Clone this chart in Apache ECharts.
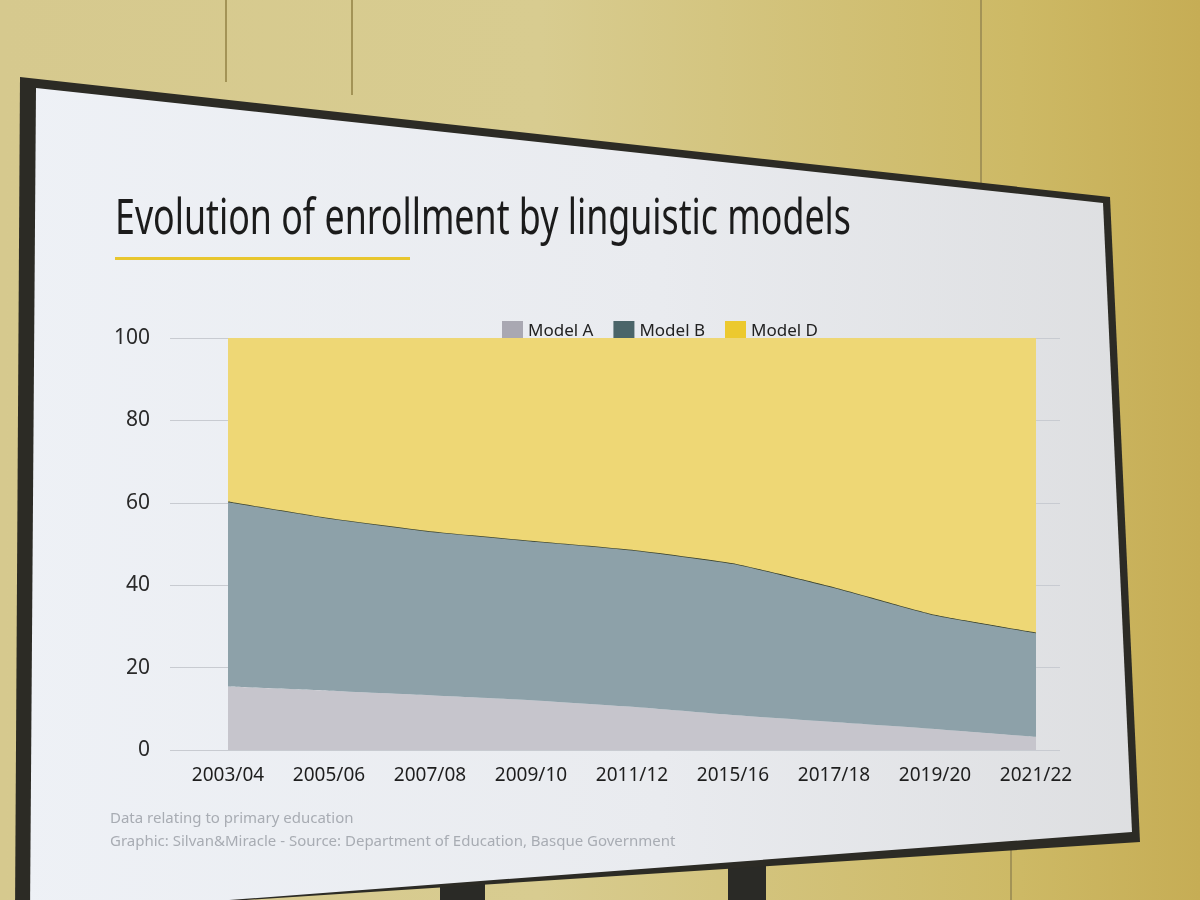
<!DOCTYPE html>
<html><head><meta charset="utf-8">
<script src="https://cdn.jsdelivr.net/npm/echarts@6/dist/echarts.min.js"></script>
<style>
html,body{margin:0;padding:0;width:1200px;height:900px;overflow:hidden;}
body{background:linear-gradient(90deg,#d6c98e 0%,#d8cc90 45%,#cdb965 85%,#c6ad55 100%);position:relative;}
.wline{position:absolute;width:2px;background:#a39356;}
.leg{position:absolute;background:#2a2a26;}
#bezel{position:absolute;left:0;top:0;width:1200px;height:900px;background:#2c2b25;clip-path:polygon(20px 77px,1110px 197px,1140px 842px,15px 915px);}
#slide{position:absolute;left:0;top:0;width:1200px;height:900px;background:linear-gradient(90deg,#eef1f6 0%,#e9ebef 55%,#dcdddf 100%);clip-path:polygon(36px 88px,1103px 203px,1132px 832px,30px 915px);}
#chart{position:absolute;left:0;top:0;width:1200px;height:900px;}
</style>
</head>
<body>
<div class="wline" style="left:225px;top:0;height:82px;"></div>
<div class="wline" style="left:351px;top:0;height:95px;"></div>
<div class="wline" style="left:980px;top:0;height:185px;"></div>
<div class="wline" style="left:1010px;top:845px;height:60px;"></div>
<div class="leg" style="left:440px;top:860px;width:45px;height:40px;"></div>
<div class="leg" style="left:728px;top:860px;width:38px;height:40px;"></div>
<div id="bezel"></div>
<div id="slide"></div>
<div id="chart"></div>
<script>
const categories = ['2003/04','2005/06','2007/08','2009/10','2011/12','2015/16','2017/18','2019/20','2021/22'];
const modelA = [15.4, 14.4, 13.3, 12.1, 10.5, 8.5, 6.8, 5.1, 3.2];
const modelB = [44.9, 41.9, 39.8, 38.7, 38.1, 36.8, 32.7, 27.7, 25.3];
const modelD = [39.7, 43.7, 46.9, 49.2, 51.4, 54.7, 60.5, 67.2, 71.5];
const seriesNames = ['Model A', 'Model B', 'Model D'];
const yMin = 0, yMax = 100, yStep = 20;
const titleText = 'Evolution of enrollment by linguistic models';
const noteText = 'Data relating to primary education';
const sourceText = 'Graphic: Silvan&Miracle - Source: Department of Education, Basque Government';

const swatch = ['#a9a8b2', '#4b6569', '#ecc92f'];
const fills = ['#c6c5cc', '#8da1a9', '#eed775'];
const values = [modelA, modelB, modelD];

const chart = echarts.init(document.getElementById('chart'), null, {renderer: 'canvas'});
const FONT = '"Noto Sans", "Open Sans", sans-serif';

const option = {
  backgroundColor: 'transparent',
  animation: false,
  grid: [
    {left: 170, right: 140, top: 338, bottom: 150},
    {left: 228, right: 164, top: 338, bottom: 150}
  ],
  legend: {
    left: 497, top: 316,
    icon: 'rect', itemWidth: 21, itemHeight: 21, itemGap: 20,
    textStyle: {fontSize: 17, color: '#222', fontFamily: FONT},
    data: seriesNames.map((n, i) => ({name: n, itemStyle: {color: swatch[i]}}))
  },
  xAxis: [
    {gridIndex: 0, type: 'category', data: categories, show: false},
    {gridIndex: 1, type: 'category', data: categories, boundaryGap: false,
     axisLine: {show: false}, axisTick: {show: false},
     axisLabel: {fontSize: 19, color: '#1e1e1e', margin: 16, fontFamily: FONT}}
  ],
  yAxis: [
    {gridIndex: 0, type: 'value', min: yMin, max: yMax, interval: yStep,
     axisLine: {show: false}, axisTick: {show: false},
     axisLabel: {fontSize: 21, color: '#2a2a2a', margin: 20, fontFamily: FONT},
     splitLine: {lineStyle: {color: '#c8cbd1', width: 1}}},
    {gridIndex: 1, type: 'value', min: yMin, max: yMax, interval: yStep, show: false,
     splitLine: {show: false}}
  ],
  series: seriesNames.map((n, i) => ({
    name: n, type: 'line', stack: 'total', xAxisIndex: 1, yAxisIndex: 1,
    data: values[i], symbol: 'none', smooth: 0.15,
    itemStyle: {color: swatch[i]},
    lineStyle: i === 1 ? {color: '#3d4530', width: 1.5} : {width: 0, color: fills[i]},
    areaStyle: {color: fills[i], opacity: 1},
    z: 2 + i
  })),
  graphic: [
    {type: 'text', x: 115, y: 196, scaleX: 0.73, style: {text: titleText, fontSize: 49, fill: '#1b1b1b', fontFamily: FONT, verticalAlign: 'top'}},
    {type: 'rect', x: 115, y: 257, shape: {width: 295, height: 3}, style: {fill: '#e8c62e'}},
    {type: 'text', x: 110, y: 811, style: {text: noteText, fontSize: 15, fill: '#a8acb3', fontFamily: FONT, verticalAlign: 'top'}},
    {type: 'text', x: 110, y: 834, style: {text: sourceText, fontSize: 15, fill: '#a8acb3', fontFamily: FONT, verticalAlign: 'top'}}
  ]
};
chart.setOption(option);
</script>
</body></html>
